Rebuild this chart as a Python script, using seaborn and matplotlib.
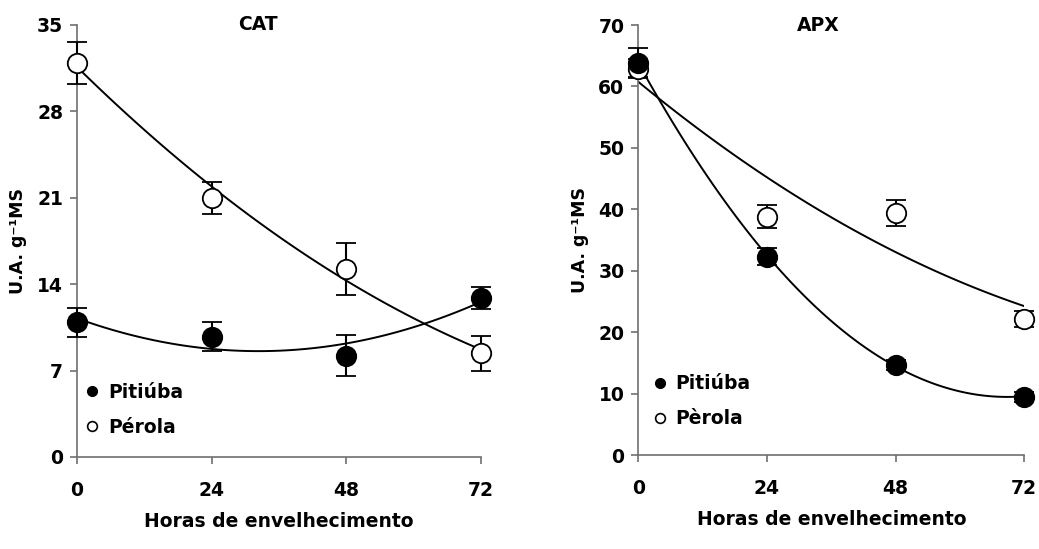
import matplotlib
matplotlib.use("Agg")
import matplotlib.pyplot as plt
from matplotlib.lines import Line2D
import seaborn as sns

# -----------------------------
# DATA
# -----------------------------
horas = [0, 24, 48, 72]

# CAT
cat_pitiuba = [10.9, 9.75, 8.2, 12.9]
cat_pitiuba_err = [1.2, 1.15, 1.65, 0.9]
cat_perola = [31.9, 21.0, 15.2, 8.4]
cat_perola_err = [1.7, 1.3, 2.1, 1.4]

# APX
apx_pitiuba = [63.9, 32.3, 14.65, 9.5]
apx_pitiuba_err = [2.3, 1.4, 0.8, 0.8]
apx_perola = [62.9, 38.8, 39.45, 22.1]
apx_perola_err = [1.5, 1.9, 2.1, 1.3]

sns.set_style("ticks")
plt.rcParams["font.family"] = ["DejaVu Sans"]
plt.rcParams["font.weight"] = "bold"
plt.rcParams["text.color"] = "black"
plt.rcParams["axes.labelcolor"] = "black"

fig = plt.figure(figsize=(10.39, 5.49), dpi=100)
ax1 = fig.add_axes([0.0741, 0.1676, 0.3888, 0.787])
ax2 = fig.add_axes([0.6143, 0.1712, 0.3715, 0.7832])

AXIS_COLOR = "#707070"
FS = 13.5


def draw_panel(ax, title, title_x, pit, pit_err, per, per_err, ymax, ystep, leg_names, leg_anchor):
    # quadratic trend lines (polynomial order 2, like the original trendlines)
    for vals in (per, pit):
        sns.regplot(x=horas, y=vals, order=2, ci=None, scatter=False, ax=ax,
                    truncate=True, line_kws=dict(color="black", lw=1.4, zorder=2))

    # means + error bars
    for vals, err, fill in ((per, per_err, "white"), (pit, pit_err, "black")):
        cont = ax.errorbar(horas, vals, yerr=err, fmt="o", ms=14, mfc=fill, mec="black",
                           mew=1.3, ecolor="black", elinewidth=1.5, capsize=7.5,
                           capthick=1.5, zorder=3)
        for art in cont.lines[0:1] + tuple(cont.lines[1]) + tuple(cont.lines[2]):
            art.set_clip_on(False)

    ax.set_xlim(0, 72)
    ax.set_ylim(0, ymax)
    ax.set_xticks(horas)
    ax.set_yticks(range(0, ymax + 1, ystep))
    ax.tick_params(axis="both", direction="out", length=5, width=1.2, color=AXIS_COLOR,
                   labelcolor="black", labelsize=FS)
    ax.tick_params(axis="x", pad=12)
    ax.tick_params(axis="y", pad=5)
    for lab in ax.get_xticklabels() + ax.get_yticklabels():
        lab.set_fontweight("bold")
    sns.despine(ax=ax)
    for side in ("left", "bottom"):
        ax.spines[side].set_color(AXIS_COLOR)
        ax.spines[side].set_linewidth(1.2)

    ax.set_xlabel("Horas de envelhecimento", fontsize=FS, fontweight="bold", labelpad=9)
    ax.set_ylabel("U.A. g\u207b\u00b9MS", fontsize=12.5, fontweight="bold", labelpad=7)
    ax.text(title_x, 1.0, title, transform=ax.transAxes, ha="center", va="center",
            fontsize=FS, fontweight="bold")

    handles = [
        Line2D([], [], ls="none", marker="o", ms=7, mfc="black", mec="black"),
        Line2D([], [], ls="none", marker="o", ms=7, mfc="white", mec="black", mew=1.2),
    ]
    ax.legend(handles, leg_names, loc="lower left", bbox_to_anchor=leg_anchor, frameon=False,
              prop=dict(size=FS, weight="bold"), handletextpad=0.35, labelspacing=0.85,
              handlelength=1.0, borderaxespad=0)


draw_panel(ax1, "CAT", 0.448, cat_pitiuba, cat_pitiuba_err, cat_perola, cat_perola_err,
           35, 7, ["Pitiúba", "Pérola"], (-0.005, 0.03))
draw_panel(ax2, "APX", 0.466, apx_pitiuba, apx_pitiuba_err, apx_perola, apx_perola_err,
           70, 10, ["Pitiúba", "Pèrola"], (0.012, 0.045))

fig.savefig("out.png", dpi=100)
